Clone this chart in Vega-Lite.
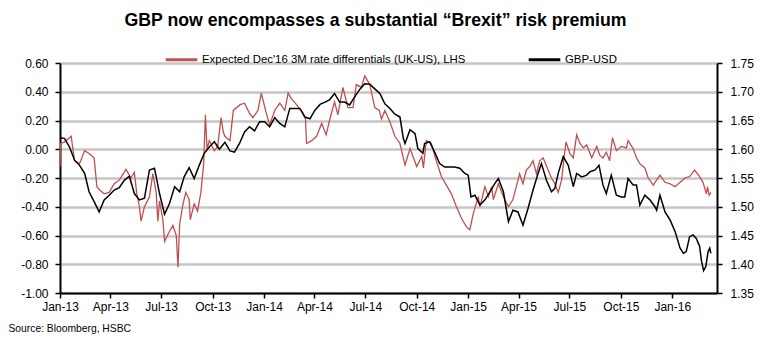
{
  "$schema": "https://vega.github.io/schema/vega-lite/v6.json",
  "autosize": {"type": "none"},
  "padding": {"left": 60, "top": 63, "right": 51, "bottom": 58},
  "width": 657,
  "height": 230,
  "background": "#ffffff",
  "title": {"text": "GBP now encompasses a substantial “Brexit” risk premium", "font": "Liberation Sans", "fontSize": 17.7, "fontWeight": "bold", "color": "#000000", "anchor": "middle", "offset": -2, "baseline": "alphabetic", "dx": -13},
  "datasets": {
    "rate": [
      {"date":"2013-01-01","value":-0.12},{"date":"2013-01-02","value":0.04},{"date":"2013-01-09","value":0.05},{"date":"2013-01-21","value":0.09},{"date":"2013-01-27","value":-0.08},{"date":"2013-02-05","value":-0.10},{"date":"2013-02-14","value":-0.01},{"date":"2013-02-22","value":-0.03},{"date":"2013-03-03","value":-0.06},{"date":"2013-03-08","value":-0.26},{"date":"2013-03-12","value":-0.28},{"date":"2013-03-21","value":-0.31},{"date":"2013-03-30","value":-0.30},{"date":"2013-04-08","value":-0.24},{"date":"2013-04-17","value":-0.215},{"date":"2013-04-29","value":-0.14},{"date":"2013-05-08","value":-0.20},{"date":"2013-05-14","value":-0.16},{"date":"2013-05-18","value":-0.30},{"date":"2013-05-23","value":-0.40},{"date":"2013-05-26","value":-0.50},{"date":"2013-06-01","value":-0.40},{"date":"2013-06-10","value":-0.33},{"date":"2013-06-16","value":-0.17},{"date":"2013-06-22","value":-0.30},{"date":"2013-06-25","value":-0.50},{"date":"2013-06-28","value":-0.36},{"date":"2013-07-04","value":-0.49},{"date":"2013-07-07","value":-0.64},{"date":"2013-07-16","value":-0.57},{"date":"2013-07-22","value":-0.53},{"date":"2013-07-28","value":-0.60},{"date":"2013-07-31","value":-0.82},{"date":"2013-08-03","value":-0.52},{"date":"2013-08-09","value":-0.38},{"date":"2013-08-14","value":-0.30},{"date":"2013-08-20","value":-0.35},{"date":"2013-08-22","value":-0.49},{"date":"2013-08-29","value":-0.38},{"date":"2013-09-04","value":-0.43},{"date":"2013-09-10","value":-0.30},{"date":"2013-09-15","value":-0.10},{"date":"2013-09-18","value":0.24},{"date":"2013-09-21","value":0.00},{"date":"2013-09-25","value":0.06},{"date":"2013-10-04","value":-0.01},{"date":"2013-10-10","value":0.02},{"date":"2013-10-16","value":0.22},{"date":"2013-10-20","value":0.12},{"date":"2013-10-23","value":0.09},{"date":"2013-11-01","value":0.06},{"date":"2013-11-07","value":0.27},{"date":"2013-11-19","value":0.31},{"date":"2013-11-27","value":0.32},{"date":"2013-12-06","value":0.25},{"date":"2013-12-12","value":0.22},{"date":"2013-12-21","value":0.27},{"date":"2013-12-27","value":0.39},{"date":"2014-01-05","value":0.25},{"date":"2014-01-11","value":0.17},{"date":"2014-01-20","value":0.27},{"date":"2014-01-29","value":0.32},{"date":"2014-02-07","value":0.27},{"date":"2014-02-13","value":0.39},{"date":"2014-02-19","value":0.35},{"date":"2014-02-28","value":0.31},{"date":"2014-03-12","value":0.25},{"date":"2014-03-16","value":0.21},{"date":"2014-03-18","value":0.04},{"date":"2014-03-27","value":0.06},{"date":"2014-04-05","value":0.09},{"date":"2014-04-14","value":0.18},{"date":"2014-04-22","value":0.10},{"date":"2014-04-28","value":0.20},{"date":"2014-05-07","value":0.33},{"date":"2014-05-13","value":0.24},{"date":"2014-05-22","value":0.43},{"date":"2014-05-31","value":0.29},{"date":"2014-06-09","value":0.29},{"date":"2014-06-15","value":0.45},{"date":"2014-06-24","value":0.43},{"date":"2014-06-30","value":0.51},{"date":"2014-07-09","value":0.45},{"date":"2014-07-18","value":0.29},{"date":"2014-07-26","value":0.27},{"date":"2014-07-30","value":0.21},{"date":"2014-08-05","value":0.27},{"date":"2014-08-14","value":0.19},{"date":"2014-08-23","value":0.09},{"date":"2014-09-01","value":0.04},{"date":"2014-09-10","value":-0.11},{"date":"2014-09-19","value":0.005},{"date":"2014-10-01","value":-0.12},{"date":"2014-10-10","value":-0.05},{"date":"2014-10-13","value":-0.13},{"date":"2014-10-18","value":0.06},{"date":"2014-10-27","value":0.04},{"date":"2014-11-05","value":-0.08},{"date":"2014-11-14","value":-0.19},{"date":"2014-11-23","value":-0.25},{"date":"2014-12-02","value":-0.31},{"date":"2014-12-11","value":-0.40},{"date":"2014-12-20","value":-0.48},{"date":"2014-12-29","value":-0.54},{"date":"2015-01-04","value":-0.56},{"date":"2015-01-10","value":-0.45},{"date":"2015-01-19","value":-0.33},{"date":"2015-01-22","value":-0.40},{"date":"2015-01-31","value":-0.26},{"date":"2015-02-06","value":-0.33},{"date":"2015-02-12","value":-0.26},{"date":"2015-02-15","value":-0.35},{"date":"2015-02-24","value":-0.24},{"date":"2015-03-05","value":-0.33},{"date":"2015-03-14","value":-0.40},{"date":"2015-03-22","value":-0.35},{"date":"2015-03-28","value":-0.26},{"date":"2015-04-03","value":-0.17},{"date":"2015-04-09","value":-0.24},{"date":"2015-04-15","value":-0.145},{"date":"2015-04-21","value":-0.12},{"date":"2015-04-27","value":-0.08},{"date":"2015-05-03","value":-0.17},{"date":"2015-05-09","value":-0.08},{"date":"2015-05-15","value":-0.06},{"date":"2015-05-24","value":-0.145},{"date":"2015-05-30","value":-0.20},{"date":"2015-06-05","value":-0.24},{"date":"2015-06-11","value":-0.30},{"date":"2015-06-17","value":-0.215},{"date":"2015-06-23","value":-0.01},{"date":"2015-06-25","value":0.05},{"date":"2015-07-02","value":-0.03},{"date":"2015-07-08","value":-0.06},{"date":"2015-07-14","value":0.10},{"date":"2015-07-20","value":0.04},{"date":"2015-07-26","value":0.01},{"date":"2015-08-01","value":0.03},{"date":"2015-08-07","value":-0.03},{"date":"2015-08-10","value":-0.06},{"date":"2015-08-19","value":0.02},{"date":"2015-08-24","value":-0.04},{"date":"2015-08-30","value":-0.06},{"date":"2015-09-05","value":-0.02},{"date":"2015-09-11","value":-0.08},{"date":"2015-09-16","value":0.08},{"date":"2015-09-23","value":-0.01},{"date":"2015-10-02","value":0.02},{"date":"2015-10-11","value":0.01},{"date":"2015-10-14","value":0.06},{"date":"2015-10-23","value":0.005},{"date":"2015-10-29","value":-0.06},{"date":"2015-11-04","value":-0.10},{"date":"2015-11-13","value":-0.13},{"date":"2015-11-19","value":-0.20},{"date":"2015-11-28","value":-0.25},{"date":"2015-12-04","value":-0.215},{"date":"2015-12-10","value":-0.18},{"date":"2015-12-19","value":-0.23},{"date":"2015-12-28","value":-0.24},{"date":"2016-01-06","value":-0.26},{"date":"2016-01-15","value":-0.23},{"date":"2016-01-24","value":-0.20},{"date":"2016-02-01","value":-0.19},{"date":"2016-02-10","value":-0.145},{"date":"2016-02-19","value":-0.19},{"date":"2016-02-25","value":-0.23},{"date":"2016-03-02","value":-0.31},{"date":"2016-03-04","value":-0.26},{"date":"2016-03-07","value":-0.32},{"date":"2016-03-10","value":-0.30}
    ],
    "gbp": [
      {"date":"2013-01-01","value":1.620},{"date":"2013-01-09","value":1.619},{"date":"2013-01-18","value":1.604},{"date":"2013-01-27","value":1.581},{"date":"2013-02-05","value":1.572},{"date":"2013-02-14","value":1.558},{"date":"2013-02-22","value":1.526},{"date":"2013-03-03","value":1.509},{"date":"2013-03-12","value":1.491},{"date":"2013-03-21","value":1.512},{"date":"2013-03-30","value":1.520},{"date":"2013-04-08","value":1.529},{"date":"2013-04-17","value":1.533},{"date":"2013-04-26","value":1.546},{"date":"2013-05-05","value":1.553},{"date":"2013-05-14","value":1.523},{"date":"2013-05-23","value":1.512},{"date":"2013-06-01","value":1.515},{"date":"2013-06-10","value":1.564},{"date":"2013-06-19","value":1.567},{"date":"2013-06-28","value":1.523},{"date":"2013-07-07","value":1.487},{"date":"2013-07-16","value":1.506},{"date":"2013-07-25","value":1.535},{"date":"2013-08-03","value":1.526},{"date":"2013-08-11","value":1.552},{"date":"2013-08-20","value":1.568},{"date":"2013-08-29","value":1.549},{"date":"2013-09-07","value":1.572},{"date":"2013-09-16","value":1.593},{"date":"2013-09-25","value":1.604},{"date":"2013-10-04","value":1.613},{"date":"2013-10-13","value":1.600},{"date":"2013-10-23","value":1.612},{"date":"2013-11-01","value":1.597},{"date":"2013-11-09","value":1.595},{"date":"2013-11-18","value":1.610},{"date":"2013-11-27","value":1.630},{"date":"2013-12-06","value":1.639},{"date":"2013-12-15","value":1.632},{"date":"2013-12-24","value":1.648},{"date":"2014-01-02","value":1.648},{"date":"2014-01-11","value":1.639},{"date":"2014-01-20","value":1.655},{"date":"2014-01-29","value":1.645},{"date":"2014-02-07","value":1.639},{"date":"2014-02-16","value":1.671},{"date":"2014-02-25","value":1.671},{"date":"2014-03-06","value":1.671},{"date":"2014-03-15","value":1.656},{"date":"2014-03-24","value":1.653},{"date":"2014-04-02","value":1.668},{"date":"2014-04-11","value":1.678},{"date":"2014-04-20","value":1.682},{"date":"2014-04-28","value":1.686},{"date":"2014-05-07","value":1.697},{"date":"2014-05-16","value":1.682},{"date":"2014-05-25","value":1.682},{"date":"2014-06-03","value":1.677},{"date":"2014-06-12","value":1.691},{"date":"2014-06-21","value":1.704},{"date":"2014-06-30","value":1.714},{"date":"2014-07-09","value":1.713},{"date":"2014-07-18","value":1.705},{"date":"2014-07-27","value":1.697},{"date":"2014-08-05","value":1.679},{"date":"2014-08-14","value":1.671},{"date":"2014-08-23","value":1.661},{"date":"2014-09-01","value":1.656},{"date":"2014-09-07","value":1.619},{"date":"2014-09-10","value":1.610},{"date":"2014-09-19","value":1.634},{"date":"2014-09-28","value":1.627},{"date":"2014-10-03","value":1.601},{"date":"2014-10-12","value":1.593},{"date":"2014-10-15","value":1.610},{"date":"2014-10-24","value":1.613},{"date":"2014-11-02","value":1.595},{"date":"2014-11-11","value":1.575},{"date":"2014-11-20","value":1.569},{"date":"2014-11-29","value":1.569},{"date":"2014-12-08","value":1.569},{"date":"2014-12-17","value":1.567},{"date":"2014-12-26","value":1.558},{"date":"2015-01-01","value":1.555},{"date":"2015-01-06","value":1.517},{"date":"2015-01-13","value":1.520},{"date":"2015-01-22","value":1.503},{"date":"2015-01-31","value":1.512},{"date":"2015-02-09","value":1.526},{"date":"2015-02-18","value":1.541},{"date":"2015-02-24","value":1.549},{"date":"2015-03-05","value":1.526},{"date":"2015-03-14","value":1.474},{"date":"2015-03-22","value":1.494},{"date":"2015-03-31","value":1.491},{"date":"2015-04-09","value":1.468},{"date":"2015-04-18","value":1.497},{"date":"2015-04-27","value":1.529},{"date":"2015-05-06","value":1.558},{"date":"2015-05-12","value":1.575},{"date":"2015-05-21","value":1.546},{"date":"2015-05-30","value":1.526},{"date":"2015-06-05","value":1.532},{"date":"2015-06-11","value":1.558},{"date":"2015-06-20","value":1.587},{"date":"2015-06-29","value":1.572},{"date":"2015-07-08","value":1.535},{"date":"2015-07-14","value":1.558},{"date":"2015-07-23","value":1.552},{"date":"2015-08-01","value":1.555},{"date":"2015-08-07","value":1.561},{"date":"2015-08-16","value":1.564},{"date":"2015-08-23","value":1.572},{"date":"2015-08-30","value":1.538},{"date":"2015-09-05","value":1.523},{"date":"2015-09-14","value":1.555},{"date":"2015-09-23","value":1.520},{"date":"2015-10-02","value":1.517},{"date":"2015-10-08","value":1.517},{"date":"2015-10-14","value":1.549},{"date":"2015-10-23","value":1.538},{"date":"2015-10-29","value":1.538},{"date":"2015-11-04","value":1.503},{"date":"2015-11-13","value":1.520},{"date":"2015-11-22","value":1.512},{"date":"2015-12-01","value":1.500},{"date":"2015-12-04","value":1.494},{"date":"2015-12-10","value":1.520},{"date":"2015-12-19","value":1.491},{"date":"2015-12-28","value":1.477},{"date":"2016-01-06","value":1.457},{"date":"2016-01-15","value":1.428},{"date":"2016-01-21","value":1.419},{"date":"2016-01-26","value":1.422},{"date":"2016-02-01","value":1.448},{"date":"2016-02-07","value":1.451},{"date":"2016-02-13","value":1.445},{"date":"2016-02-19","value":1.431},{"date":"2016-02-22","value":1.407},{"date":"2016-02-26","value":1.389},{"date":"2016-03-01","value":1.396},{"date":"2016-03-05","value":1.422},{"date":"2016-03-08","value":1.428},{"date":"2016-03-10","value":1.419}
    ]
  },
  "layer": [
    {
      "data": {"name": "rate"},
      "mark": {"type": "line", "strokeWidth": 1.3},
      "encoding": {
        "x": {
          "field": "date", "type": "temporal",
          "scale": {"type": "utc", "domain": [{"year": 2013, "month": 1, "date": 1, "utc": true}, {"year": 2016, "month": 3, "date": 21, "utc": true}]},
          "axis": {
            "values": [
              {"year": 2013, "month": 1, "date": 1, "utc": true}, {"year": 2013, "month": 4, "date": 1, "utc": true}, {"year": 2013, "month": 7, "date": 1, "utc": true}, {"year": 2013, "month": 10, "date": 1, "utc": true},
              {"year": 2014, "month": 1, "date": 1, "utc": true}, {"year": 2014, "month": 4, "date": 1, "utc": true}, {"year": 2014, "month": 7, "date": 1, "utc": true}, {"year": 2014, "month": 10, "date": 1, "utc": true},
              {"year": 2015, "month": 1, "date": 1, "utc": true}, {"year": 2015, "month": 4, "date": 1, "utc": true}, {"year": 2015, "month": 7, "date": 1, "utc": true}, {"year": 2015, "month": 10, "date": 1, "utc": true},
              {"year": 2016, "month": 1, "date": 1, "utc": true}
            ],
            "format": "%b-%y",
            "labelAlign": "center",
            "labelPadding": 3,
            "grid": false,
            "tickSize": 5,
            "title": "Source: Bloomberg, HSBC",
            "titleX": -52,
            "titleY": 38,
            "titleAlign": "left",
            "titleAnchor": "start",
            "titleBaseline": "alphabetic",
            "titleFont": "Liberation Sans",
            "titleFontSize": 10.3,
            "titleFontWeight": "normal",
            "titleColor": "#000000"
          }
        },
        "y": {
          "field": "value", "type": "quantitative",
          "scale": {"domain": [-1, 0.6], "nice": false, "zero": false},
          "axis": {
            "orient": "left",
            "values": [-1, -0.8, -0.6, -0.4, -0.2, 0, 0.2, 0.4, 0.6],
            "labelExpr": "datum.value < -0.001 ? '-' + format(-datum.value, '.2f') : format(abs(datum.value), '.2f')",
            "grid": true,
            "gridColor": "#c6c6c6",
            "gridWidth": 2.5,
            "tickSize": 5,
            "labelPadding": 7,
            "title": null
          }
        },
        "color": {
          "datum": "Expected Dec'16 3M rate differentials (UK-US), LHS",
          "type": "nominal",
          "scale": {"domain": ["Expected Dec'16 3M rate differentials (UK-US), LHS", "GBP-USD"], "range": ["#C0504D", "#000000"]},
          "legend": {
            "orient": "none", "legendX": 104, "legendY": -21,
            "direction": "horizontal", "title": null,
            "symbolType": "stroke", "symbolSize": 1000, "symbolStrokeWidth": 3,
            "labelFont": "Liberation Sans", "labelFontSize": 11.4, "labelColor": "#000000",
            "labelOffset": 3, "columnPadding": 56, "labelLimit": 400
          }
        }
      }
    },
    {
      "data": {"name": "gbp"},
      "mark": {"type": "line", "strokeWidth": 1.5},
      "encoding": {
        "x": {"field": "date", "type": "temporal"},
        "y": {
          "field": "value", "type": "quantitative",
          "scale": {"domain": [1.35, 1.75], "nice": false, "zero": false},
          "axis": {
            "orient": "right",
            "values": [1.35, 1.4, 1.45, 1.5, 1.55, 1.6, 1.65, 1.7, 1.75],
            "format": ".2f",
            "grid": false,
            "tickSize": 5,
            "labelPadding": 8,
            "title": null
          }
        },
        "color": {"datum": "GBP-USD", "type": "nominal"}
      }
    }
  ],
  "resolve": {"scale": {"y": "independent"}, "axis": {"y": "independent"}},
  "config": {
    "view": {"stroke": null},
    "axis": {
      "labelFont": "Liberation Sans",
      "labelFontSize": 12,
      "labelColor": "#000000",
      "domainColor": "#000000",
      "domainWidth": 2,
      "tickColor": "#000000",
      "tickWidth": 1.5
    }
  }
}
